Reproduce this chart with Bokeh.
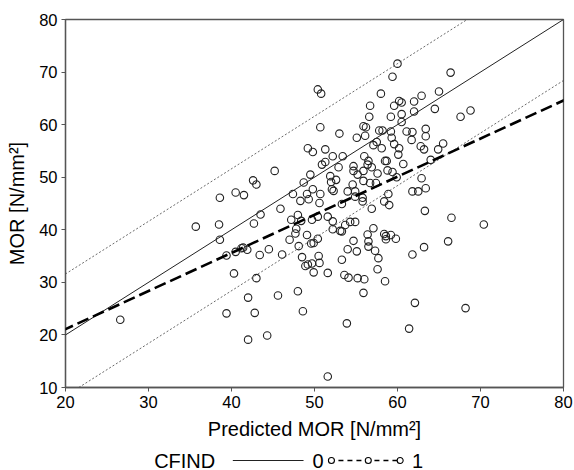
from bokeh.plotting import figure
from bokeh.layouts import column
from bokeh.models import Slope, Range1d, FixedTicker, ColumnDataSource
from bokeh.core.properties import value
from bokeh.embed import file_html
from bokeh.resources import INLINE

# Predicted MOR (x) and observed MOR (y), N/mm²
pred_mor = [26.6, 35.7, 38.6, 38.5, 38.6, 39.4, 39.4, 40.5, 41.5, 40.5, 40.3, 41.2, 41.4, 41.9, 42.0, 42.0,
            42.6, 43.0, 42.7, 43.5, 43.4, 43.0, 42.8, 45.2, 44.5, 44.3, 45.9, 46.1, 45.6, 47.4, 47.2, 47.0,
            47.7, 47.8, 48.0, 48.3, 48.4, 48.1, 48.0, 48.5, 48.6, 48.7, 49.2, 49.8, 49.5, 49.1, 49.3, 49.8,
            49.1, 49.7, 49.6, 49.9, 48.9, 49.2, 49.7, 49.9, 50.4, 50.8, 50.7, 50.9, 51.3, 51.3, 50.4, 50.6,
            50.7, 50.4, 50.5, 50.6, 51.6, 51.6, 51.6, 51.9, 52.0, 52.1, 52.3, 52.2, 52.2, 52.2, 52.6, 53.0,
            52.9, 53.1, 53.4, 53.3, 53.3, 53.3, 53.6, 53.7, 54.0, 54.0, 54.1, 53.9, 54.3, 54.6, 54.7, 54.7,
            54.7, 54.9, 54.9, 54.9, 55.1, 55.2, 55.1, 55.2, 55.8, 55.8, 55.9, 55.9, 55.9, 56.2, 56.0, 56.1,
            56.0, 55.9, 56.4, 56.6, 56.7, 56.5, 56.7, 56.9, 56.4, 56.5, 56.5, 56.9, 57.1, 57.1, 57.4, 57.6,
            57.5, 57.3, 57.7, 57.6, 57.8, 58.2, 58.0, 58.1, 58.4, 58.4, 58.5, 58.7, 58.6, 58.6, 58.5, 58.8,
            58.9, 59.0, 59.2, 59.2, 59.4, 59.2, 59.3, 59.6, 59.6, 59.4, 59.8, 59.9, 60.0, 60.2, 60.1, 60.2,
            60.5, 60.5, 60.5, 60.7, 61.1, 61.4, 61.7, 61.8, 62.0, 62.0, 61.8, 62.5, 61.8, 62.1, 62.8, 62.9,
            62.9, 63.2, 63.4, 63.4, 63.4, 63.3, 63.2, 64.0, 64.5, 64.9, 65.0, 65.5, 66.1, 66.4, 66.5, 67.6,
            68.8, 68.2, 70.4]
obs_mor = [22.9, 40.6, 46.1, 41.0, 38.1, 35.1, 24.1, 47.1, 46.6, 35.8, 31.7, 36.5, 36.6, 36.2, 27.1, 19.1,
           49.4, 48.6, 41.2, 42.9, 35.2, 30.8, 24.2, 51.2, 36.3, 19.9, 44.0, 35.3, 27.5, 46.8, 41.9, 38.1,
           39.3, 40.2, 42.8, 45.5, 41.7, 36.9, 28.3, 34.8, 24.5, 49.0, 55.5, 54.8, 50.5, 46.8, 45.8, 47.7,
           39.0, 41.9, 37.4, 37.5, 33.1, 33.4, 33.6, 31.9, 66.7, 65.9, 59.5, 52.4, 52.9, 55.3, 42.5, 45.1,
           46.8, 38.3, 35.0, 33.7, 42.5, 31.8, 12.1, 50.2, 49.1, 47.7, 47.4, 41.6, 40.1, 54.0, 49.5, 58.3,
           51.9, 39.8, 54.0, 44.9, 39.7, 34.3, 31.4, 40.9, 47.3, 36.3, 30.9, 22.2, 41.5, 48.6, 52.1, 51.2,
           37.9, 47.3, 46.3, 41.5, 57.5, 50.5, 35.9, 30.8, 46.1, 45.4, 51.2, 49.3, 59.7, 59.5, 54.0, 57.9,
           30.6, 28.0, 52.4, 61.5, 63.6, 53.1, 48.9, 51.9, 39.1, 37.8, 36.8, 44.0, 40.3, 56.1, 48.9, 50.7,
           56.7, 36.0, 34.6, 32.5, 58.9, 58.9, 65.9, 55.5, 39.2, 45.4, 53.1, 53.1, 38.8, 38.2, 30.2, 51.3,
           46.8, 44.7, 58.7, 61.5, 69.1, 39.0, 57.5, 56.3, 63.6, 51.0, 38.3, 50.0, 71.6, 64.5, 54.3, 55.5,
           62.0, 64.2, 60.5, 52.5, 58.7, 21.2, 57.1, 58.6, 62.5, 64.4, 47.3, 47.3, 35.3, 26.1, 55.9, 49.8,
           65.5, 55.3, 59.2, 57.8, 47.9, 43.6, 36.7, 53.3, 63.0, 55.3, 66.3, 56.4, 37.8, 69.9, 42.3, 61.5,
           62.7, 25.1, 41.0]

# fitted lines
identity_slope, identity_intercept = 1.0, 0.0      # CFIND = 0
interval_halfwidth = 11.6                           # thin dotted band around identity
fit_slope, fit_intercept = 0.725, 6.6              # CFIND = 1 regression

x_ticks = [20, 30, 40, 50, 60, 70, 80]
y_ticks = [10, 20, 30, 40, 50, 60, 70, 80]

legend_title = "CFIND"
legend_labels = ["0", "1"]

FONT = "Liberation Sans"

p = figure(width=574, height=442, output_backend="svg", toolbar_location=None,
           x_range=Range1d(20, 80), y_range=Range1d(10, 80),
           min_border_left=65, min_border_right=11, min_border_top=19, min_border_bottom=55)
p.grid.visible = False
p.outline_line_color = "#555555"
p.outline_line_width = 1.3
p.background_fill_color = "white"

for ax in (p.xaxis[0], p.yaxis[0]):
    ax.axis_line_color = "#555555"
    ax.axis_line_width = 1.3
    ax.major_tick_line_color = "#555555"
    ax.major_tick_out = 4
    ax.major_tick_in = 0
    ax.minor_tick_line_color = None
    ax.major_label_text_font = FONT
    ax.major_label_text_font_size = "16.5px"
    ax.major_label_text_color = "black"
    ax.axis_label_text_font = FONT
    ax.axis_label_text_font_size = "20px"
    ax.axis_label_text_font_style = "normal"
    ax.axis_label_text_color = "black"

p.xaxis[0].ticker = FixedTicker(ticks=x_ticks)
p.yaxis[0].ticker = FixedTicker(ticks=y_ticks)
p.xaxis[0].axis_label = "Predicted MOR [N/mm²]"
p.yaxis[0].axis_label = "MOR [N/mm²]"
p.xaxis[0].major_label_standoff = 4
p.yaxis[0].major_label_standoff = 4
p.xaxis[0].axis_label_standoff = 7
p.yaxis[0].axis_label_standoff = 8

# band and fit lines
p.add_layout(Slope(gradient=identity_slope, y_intercept=identity_intercept + interval_halfwidth,
                   line_color="#444444", line_width=0.8, line_dash="2 2"))
p.add_layout(Slope(gradient=identity_slope, y_intercept=identity_intercept - interval_halfwidth,
                   line_color="#444444", line_width=0.8, line_dash="2 2"))
p.add_layout(Slope(gradient=identity_slope, y_intercept=identity_intercept,
                   line_color="#222222", line_width=1.0))
p.add_layout(Slope(gradient=fit_slope, y_intercept=fit_intercept,
                   line_color="black", line_width=2.6, line_dash="12 5"))

src = ColumnDataSource(data=dict(x=pred_mor, y=obs_mor))
p.scatter("x", "y", source=src, marker="circle", size=7.5, fill_color=None,
          line_color="#222222", line_width=1.1)

# ---- legend strip (its frame is aligned with the main frame; units = page pixels) ----
lg = figure(width=574, height=28, output_backend="svg", toolbar_location=None,
            x_range=Range1d(63, 563), y_range=Range1d(0, 28),
            x_axis_location=None, y_axis_location=None,
            min_border_left=0, min_border_right=0, min_border_top=0, min_border_bottom=0)
lg.grid.visible = False
lg.outline_line_color = None

KEY_Y = 10
lg.text(x=[152], y=[KEY_Y], text=[legend_title], text_font=value(FONT), text_font_size="20px",
        text_baseline="middle", text_align="left", text_color="black")
lg.line(x=[231, 302], y=[KEY_Y, KEY_Y], line_color="#222222", line_width=1.0)
lg.text(x=[311], y=[KEY_Y], text=[legend_labels[0]], text_font=value(FONT), text_font_size="20px",
        text_baseline="middle", text_align="left", text_color="black")
lg.line(x=[328, 400], y=[KEY_Y, KEY_Y], line_color="black", line_width=1.6, line_dash="5 4")
lg.scatter(x=[330, 367, 399], y=[KEY_Y] * 3, marker="circle", size=6, fill_color="white",
           line_color="black", line_width=1.1)
lg.text(x=[411], y=[KEY_Y], text=[legend_labels[1]], text_font=value(FONT), text_font_size="20px",
        text_baseline="middle", text_align="left", text_color="black")

layout = column(p, lg, spacing=0)
open("out.html", "w").write(file_html(layout, INLINE))
